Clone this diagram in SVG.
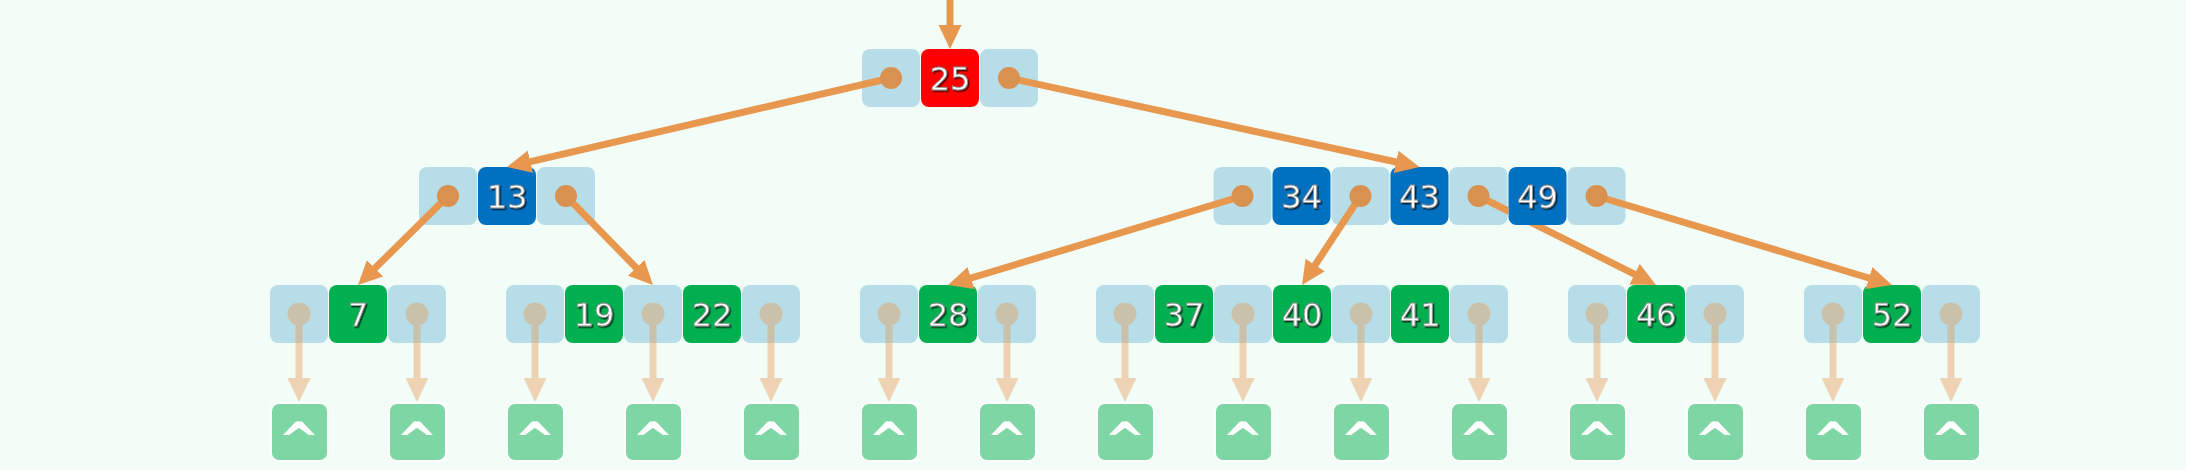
<svg xmlns="http://www.w3.org/2000/svg" width="2186" height="470" viewBox="0 0 2186 470">
<style>
.bg{fill:#f2fdf7}
.ptr{fill:#b7dee8}
.red{fill:#ff0000}
.blue{fill:#0070c0}
.green{fill:#00b050}
.key{font-family:"DejaVu Sans",Verdana,sans-serif;font-size:32px;fill:#ffffff;stroke:#8a8a8a;stroke-width:0.8;text-anchor:middle;filter:url(#sh)}
.nullbox{fill:#7dd6a3;stroke:#ffffff;stroke-width:2}
.caret{font-family:"DejaVu Sans",Verdana,sans-serif;font-weight:bold;font-size:50px;fill:#ffffff;text-anchor:middle}
.link{stroke:#e8974f;stroke-width:7;fill:none;marker-end:url(#ah)}
.dot{fill:#d99150}
.nlink{stroke:#e8974f;stroke-width:7;fill:none;marker-end:url(#ah)}
.ndot{fill:#e8974f}
.nullc{opacity:0.4}
</style>
<defs>
<filter id="sh" x="-20%" y="-20%" width="140%" height="140%">
<feDropShadow dx="1.5" dy="1.5" stdDeviation="0.6" flood-color="#000" flood-opacity="0.65"/>
</filter>
<marker id="ah" markerUnits="userSpaceOnUse" viewBox="0 0 24 23" markerWidth="24" markerHeight="23" refX="12" refY="11.5" orient="auto">
<path d="M0,0 L24,11.5 L0,23 z" fill="#e8974f"/>
</marker>
<mask id="m49" maskUnits="userSpaceOnUse" x="0" y="0" width="2186" height="470">
<rect x="0" y="0" width="2186" height="470" fill="#fff"/>
<rect x="1508.5" y="167" width="58" height="58" rx="8" fill="#000"/>
</mask>
</defs>
<rect class="bg" x="0" y="0" width="2186" height="470"/>

<!-- level 1 -->
<g id="node-25">
<rect class="ptr" x="862" y="49" width="58" height="58" rx="8"/>
<rect class="red" x="921" y="49" width="58" height="58" rx="8"/>
<rect class="ptr" x="980" y="49" width="58" height="58" rx="8"/>
<text class="key" x="950" y="89.5">25</text>
</g>

<!-- level 2 -->
<g id="node-13">
<rect class="ptr" x="419" y="167" width="58" height="58" rx="8"/>
<rect class="blue" x="478" y="167" width="58" height="58" rx="8"/>
<rect class="ptr" x="537" y="167" width="58" height="58" rx="8"/>
<text class="key" x="507" y="207.5">13</text>
</g>
<g id="node-34-43-49">
<rect class="ptr" x="1213.5" y="167" width="58" height="58" rx="8"/>
<rect class="blue" x="1272.5" y="167" width="58" height="58" rx="8"/>
<rect class="ptr" x="1331.5" y="167" width="58" height="58" rx="8"/>
<rect class="blue" x="1390.5" y="167" width="58" height="58" rx="8"/>
<rect class="ptr" x="1449.5" y="167" width="58" height="58" rx="8"/>
<rect class="blue" x="1508.5" y="167" width="58" height="58" rx="8"/>
<rect class="ptr" x="1567.5" y="167" width="58" height="58" rx="8"/>
<text class="key" x="1301.5" y="207.5">34</text>
<text class="key" x="1419.5" y="207.5">43</text>
<text class="key" x="1537.5" y="207.5">49</text>
</g>

<!-- level 3 -->
<g id="node-7">
<rect class="ptr" x="270" y="285" width="58" height="58" rx="8"/>
<rect class="green" x="329" y="285" width="58" height="58" rx="8"/>
<rect class="ptr" x="388" y="285" width="58" height="58" rx="8"/>
<text class="key" x="358" y="325.5">7</text>
</g>
<g id="node-19-22">
<rect class="ptr" x="506" y="285" width="58" height="58" rx="8"/>
<rect class="green" x="565" y="285" width="58" height="58" rx="8"/>
<rect class="ptr" x="624" y="285" width="58" height="58" rx="8"/>
<rect class="green" x="683" y="285" width="58" height="58" rx="8"/>
<rect class="ptr" x="742" y="285" width="58" height="58" rx="8"/>
<text class="key" x="594" y="325.5">19</text>
<text class="key" x="712" y="325.5">22</text>
</g>
<g id="node-28">
<rect class="ptr" x="860" y="285" width="58" height="58" rx="8"/>
<rect class="green" x="919" y="285" width="58" height="58" rx="8"/>
<rect class="ptr" x="978" y="285" width="58" height="58" rx="8"/>
<text class="key" x="948" y="325.5">28</text>
</g>
<g id="node-37-40-41">
<rect class="ptr" x="1096" y="285" width="58" height="58" rx="8"/>
<rect class="green" x="1155" y="285" width="58" height="58" rx="8"/>
<rect class="ptr" x="1214" y="285" width="58" height="58" rx="8"/>
<rect class="green" x="1273" y="285" width="58" height="58" rx="8"/>
<rect class="ptr" x="1332" y="285" width="58" height="58" rx="8"/>
<rect class="green" x="1391" y="285" width="58" height="58" rx="8"/>
<rect class="ptr" x="1450" y="285" width="58" height="58" rx="8"/>
<text class="key" x="1184" y="325.5">37</text>
<text class="key" x="1302" y="325.5">40</text>
<text class="key" x="1420" y="325.5">41</text>
</g>
<g id="node-46">
<rect class="ptr" x="1568" y="285" width="58" height="58" rx="8"/>
<rect class="green" x="1627" y="285" width="58" height="58" rx="8"/>
<rect class="ptr" x="1686" y="285" width="58" height="58" rx="8"/>
<text class="key" x="1656" y="325.5">46</text>
</g>
<g id="node-52">
<rect class="ptr" x="1804" y="285" width="58" height="58" rx="8"/>
<rect class="green" x="1863" y="285" width="58" height="58" rx="8"/>
<rect class="ptr" x="1922" y="285" width="58" height="58" rx="8"/>
<text class="key" x="1892" y="325.5">52</text>
</g>

<!-- null leaves -->
<g id="nulls">
<g id="null-1"><rect class="nullbox" x="271" y="403" width="57" height="58" rx="8"/><text class="caret" x="299" y="458">^</text></g>
<g id="null-2"><rect class="nullbox" x="389" y="403" width="57" height="58" rx="8"/><text class="caret" x="417" y="458">^</text></g>
<g id="null-3"><rect class="nullbox" x="507" y="403" width="57" height="58" rx="8"/><text class="caret" x="535" y="458">^</text></g>
<g id="null-4"><rect class="nullbox" x="625" y="403" width="57" height="58" rx="8"/><text class="caret" x="653" y="458">^</text></g>
<g id="null-5"><rect class="nullbox" x="743" y="403" width="57" height="58" rx="8"/><text class="caret" x="771" y="458">^</text></g>
<g id="null-6"><rect class="nullbox" x="861" y="403" width="57" height="58" rx="8"/><text class="caret" x="889" y="458">^</text></g>
<g id="null-7"><rect class="nullbox" x="979" y="403" width="57" height="58" rx="8"/><text class="caret" x="1007" y="458">^</text></g>
<g id="null-8"><rect class="nullbox" x="1097" y="403" width="57" height="58" rx="8"/><text class="caret" x="1125" y="458">^</text></g>
<g id="null-9"><rect class="nullbox" x="1215" y="403" width="57" height="58" rx="8"/><text class="caret" x="1243" y="458">^</text></g>
<g id="null-10"><rect class="nullbox" x="1333" y="403" width="57" height="58" rx="8"/><text class="caret" x="1361" y="458">^</text></g>
<g id="null-11"><rect class="nullbox" x="1451" y="403" width="57" height="58" rx="8"/><text class="caret" x="1479" y="458">^</text></g>
<g id="null-12"><rect class="nullbox" x="1569" y="403" width="57" height="58" rx="8"/><text class="caret" x="1597" y="458">^</text></g>
<g id="null-13"><rect class="nullbox" x="1687" y="403" width="57" height="58" rx="8"/><text class="caret" x="1715" y="458">^</text></g>
<g id="null-14"><rect class="nullbox" x="1805" y="403" width="57" height="58" rx="8"/><text class="caret" x="1833" y="458">^</text></g>
<g id="null-15"><rect class="nullbox" x="1923" y="403" width="57" height="58" rx="8"/><text class="caret" x="1951" y="458">^</text></g>
</g>

<!-- connectors -->
<g id="connectors">
<line class="link" x1="950" y1="0" x2="950" y2="37"/>
<line class="link" x1="891" y1="78" x2="518.7" y2="164.3"/>
<circle class="dot" cx="891" cy="78" r="11"/>
<line class="link" x1="1009" y1="78" x2="1407.8" y2="164.5"/>
<circle class="dot" cx="1009" cy="78" r="11"/>
<line class="link" x1="448" y1="196" x2="366.5" y2="276.6"/>
<circle class="dot" cx="448" cy="196" r="11"/>
<line class="link" x1="566" y1="196" x2="644.6" y2="276.4"/>
<circle class="dot" cx="566" cy="196" r="11"/>
<line class="link" x1="1242.5" y1="196" x2="959.5" y2="281.5"/>
<circle class="dot" cx="1242.5" cy="196" r="11"/>
<line class="link" x1="1360.5" y1="196" x2="1308.6" y2="275"/>
<circle class="dot" cx="1360.5" cy="196" r="11"/>
<line class="link" x1="1478.5" y1="196" x2="1645.3" y2="279.6" mask="url(#m49)"/>
<circle class="dot" cx="1478.5" cy="196" r="11"/>
<line class="link" x1="1596.5" y1="196" x2="1880.5" y2="281.5"/>
<circle class="dot" cx="1596.5" cy="196" r="11"/>

<g class="nullc"><line class="nlink" x1="299" y1="314" x2="299" y2="390"/><circle class="ndot" cx="299" cy="314" r="11.5"/></g>
<g class="nullc"><line class="nlink" x1="417" y1="314" x2="417" y2="390"/><circle class="ndot" cx="417" cy="314" r="11.5"/></g>
<g class="nullc"><line class="nlink" x1="535" y1="314" x2="535" y2="390"/><circle class="ndot" cx="535" cy="314" r="11.5"/></g>
<g class="nullc"><line class="nlink" x1="653" y1="314" x2="653" y2="390"/><circle class="ndot" cx="653" cy="314" r="11.5"/></g>
<g class="nullc"><line class="nlink" x1="771" y1="314" x2="771" y2="390"/><circle class="ndot" cx="771" cy="314" r="11.5"/></g>
<g class="nullc"><line class="nlink" x1="889" y1="314" x2="889" y2="390"/><circle class="ndot" cx="889" cy="314" r="11.5"/></g>
<g class="nullc"><line class="nlink" x1="1007" y1="314" x2="1007" y2="390"/><circle class="ndot" cx="1007" cy="314" r="11.5"/></g>
<g class="nullc"><line class="nlink" x1="1125" y1="314" x2="1125" y2="390"/><circle class="ndot" cx="1125" cy="314" r="11.5"/></g>
<g class="nullc"><line class="nlink" x1="1243" y1="314" x2="1243" y2="390"/><circle class="ndot" cx="1243" cy="314" r="11.5"/></g>
<g class="nullc"><line class="nlink" x1="1361" y1="314" x2="1361" y2="390"/><circle class="ndot" cx="1361" cy="314" r="11.5"/></g>
<g class="nullc"><line class="nlink" x1="1479" y1="314" x2="1479" y2="390"/><circle class="ndot" cx="1479" cy="314" r="11.5"/></g>
<g class="nullc"><line class="nlink" x1="1597" y1="314" x2="1597" y2="390"/><circle class="ndot" cx="1597" cy="314" r="11.5"/></g>
<g class="nullc"><line class="nlink" x1="1715" y1="314" x2="1715" y2="390"/><circle class="ndot" cx="1715" cy="314" r="11.5"/></g>
<g class="nullc"><line class="nlink" x1="1833" y1="314" x2="1833" y2="390"/><circle class="ndot" cx="1833" cy="314" r="11.5"/></g>
<g class="nullc"><line class="nlink" x1="1951" y1="314" x2="1951" y2="390"/><circle class="ndot" cx="1951" cy="314" r="11.5"/></g>
</g>
</svg>
